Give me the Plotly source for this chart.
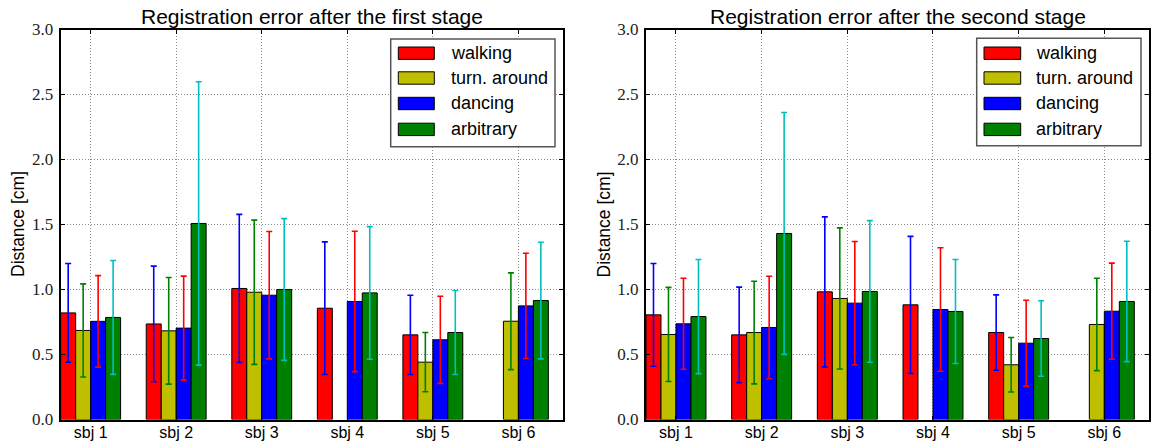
import plotly.graph_objects as go

subjects = ["sbj 1", "sbj 2", "sbj 3", "sbj 4", "sbj 5", "sbj 6"]
series_names = ["walking", "turn. around", "dancing", "arbitrary"]
yticks = [0.0, 0.5, 1.0, 1.5, 2.0, 2.5, 3.0]

# first stage: mean and std
walk1 = [0.82, 0.735, 1.008, 0.856, 0.651, None]
walk1_sd = [0.38, 0.445, 0.57, 0.51, 0.305, None]
turn1 = [0.685, 0.682, 0.979, None, 0.441, 0.756]
turn1_sd = [0.358, 0.41, 0.555, None, 0.228, 0.372]
danc1 = [0.755, 0.703, 0.956, 0.908, 0.613, 0.874]
danc1_sd = [0.352, 0.40, 0.49, 0.54, 0.335, 0.405]
arb1 = [0.785, 1.508, 1.0, 0.974, 0.669, 0.915]
arb1_sd = [0.438, 1.09, 0.545, 0.51, 0.323, 0.449]

# second stage
walk2 = [0.805, 0.651, 0.982, 0.882, 0.669, None]
walk2_sd = [0.395, 0.367, 0.577, 0.527, 0.29, None]
turn2 = [0.654, 0.669, 0.931, None, 0.421, 0.731]
turn2_sd = [0.362, 0.395, 0.543, None, 0.21, 0.355]
danc2 = [0.736, 0.708, 0.895, 0.846, 0.587, 0.833]
danc2_sd = [0.35, 0.394, 0.474, 0.475, 0.33, 0.37]
arb2 = [0.792, 1.431, 0.985, 0.831, 0.623, 0.908]
arb2_sd = [0.439, 0.93, 0.545, 0.40, 0.29, 0.463]

bar_colors = ["#ff0000", "#bfbf00", "#0000ff", "#008000"]
err_colors = ["#0000ff", "#008000", "#ff0000", "#00bfbf"]

W, H = 1156, 443
xpos = list(range(len(subjects)))

fig = go.Figure()

stages = [
    ([walk1, turn1, danc1, arb1], [walk1_sd, turn1_sd, danc1_sd, arb1_sd], "x", "y"),
    ([walk2, turn2, danc2, arb2], [walk2_sd, turn2_sd, danc2_sd, arb2_sd], "x2", "y2"),
]
for vals, sds, xa, ya in stages:
    for i, name in enumerate(series_names):
        fig.add_trace(go.Bar(
            x=xpos, y=vals[i], name=name, xaxis=xa, yaxis=ya, showlegend=False,
            marker=dict(color=bar_colors[i], line=dict(color="#000000", width=1)),
            error_y=dict(type="data", array=sds[i], visible=True,
                         color=err_colors[i], thickness=1.6, width=3),
        ))

SANS = "Liberation Sans, Arial, Helvetica, sans-serif"
axis_font = dict(family=SANS, size=16, color="#000")
ytick_font = dict(family="Liberation Serif, Times New Roman, serif", size=17, color="#222")
GRID = dict(showgrid=True, gridcolor="#8a8a8a", griddash="1px,2px", gridwidth=1)

def xax(domain, anchor):
    return dict(domain=domain, anchor=anchor, range=[-0.35, 5.525],
                tickvals=xpos, ticktext=subjects, tickfont=axis_font,
                ticklabelstandoff=-3,
                showline=True, linecolor="#000", linewidth=2, mirror="ticks",
                ticks="inside", ticklen=4, tickcolor="#000", tickwidth=1,
                zeroline=False, automargin=False, fixedrange=True, **GRID)

def yax(anchor):
    return dict(domain=[(H - 419.5) / H, (H - 29.5) / H], anchor=anchor,
                range=[0, 3.0], tickvals=yticks, ticktext=[f"{v:.1f}" for v in yticks],
                tickfont=ytick_font, ticklabelstandoff=2,
                showline=True, linecolor="#000", linewidth=2, mirror="ticks",
                ticks="inside", ticklen=4, tickcolor="#000", tickwidth=1,
                zeroline=False, automargin=False, fixedrange=True, **GRID)

fig.update_layout(
    width=W, height=H, margin=dict(l=0, r=0, t=0, b=0),
    paper_bgcolor="#ffffff", plot_bgcolor="#ffffff",
    barmode="group", bargap=0.3, bargroupgap=0,
    xaxis=xax([60.7 / W, 563.3 / W], "y"),
    yaxis=yax("x"),
    xaxis2=xax([646 / W, 1149.3 / W], "y2"),
    yaxis2=yax("x2"),
    showlegend=False,
)

def px(xp):
    return xp / W

def py(yp):
    return (H - yp) / H

# titles
title_font = dict(family=SANS, size=21, color="#000")
for txt, xc in [("Registration error after the first stage", 312),
                ("Registration error after the second stage", 897.7)]:
    fig.add_annotation(text=txt, x=px(xc), y=py(16.5), xref="paper", yref="paper",
                       xanchor="center", yanchor="middle", showarrow=False, font=title_font)

# y axis titles
for xc in [17.5, 603]:
    fig.add_annotation(text="Distance [cm]", x=px(xc), y=py(224.5), xref="paper", yref="paper",
                       xanchor="center", yanchor="middle", textangle=-90, showarrow=False,
                       font=dict(family=SANS, size=17.5, color="#000"))

# legends (one per panel)
legend_boxes = [(390.7, 555.0, 39.0, 146.7, 398.3, 434.3, 449.3),
                (976.7, 1141.0, 38.3, 145.7, 984.0, 1020.7, 1034.0)]
row_centers = [53.2, 78.0, 103.5, 129.4]
for (bx0, bx1, by0, by1, sx0, sx1, tx) in legend_boxes:
    fig.add_shape(type="rect", xref="paper", yref="paper",
                  x0=px(bx0), x1=px(bx1), y0=py(by1), y1=py(by0),
                  fillcolor="#ffffff", line=dict(color="#555555", width=1.5), layer="above")
    for i, name in enumerate(series_names):
        yc = row_centers[i]
        fig.add_shape(type="rect", xref="paper", yref="paper",
                      x0=px(sx0), x1=px(sx1), y0=py(yc + 6.2), y1=py(yc - 6.2),
                      fillcolor=bar_colors[i], line=dict(color="#000000", width=1), layer="above")
        fig.add_annotation(text=name, x=px(tx), y=py(yc), xref="paper", yref="paper",
                           xanchor="left", yanchor="middle", showarrow=False,
                           font=dict(family=SANS, size=18, color="#000"))

fig.write_html("out.html", config={"displayModeBar": False},
               post_script="document.body.style.margin='0';document.body.style.overflow='hidden';")
